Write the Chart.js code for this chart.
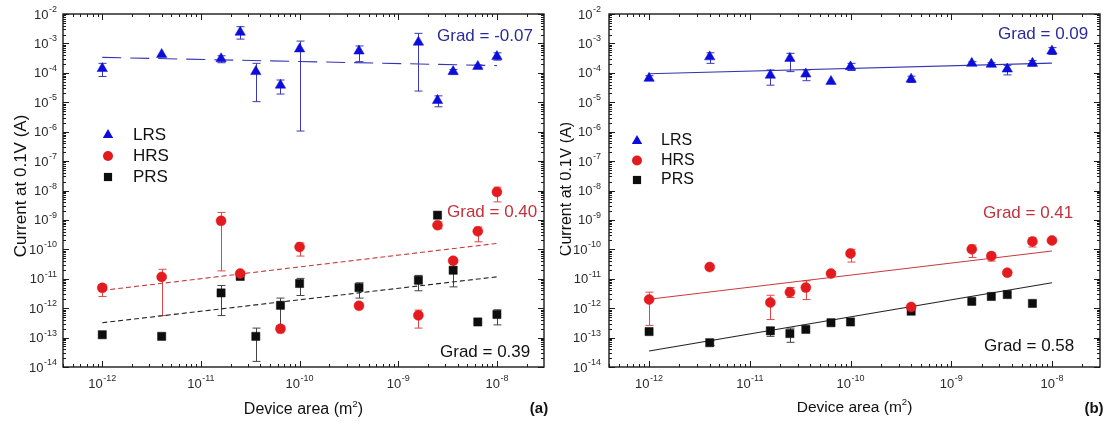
<!DOCTYPE html>
<html>
<head>
<meta charset="utf-8">
<title>Current at 0.1V versus device area</title>
<script src="https://cdn.jsdelivr.net/npm/chart.js@4/dist/chart.umd.min.js"></script>
<style>
  html, body { margin: 0; padding: 0; background: #ffffff; }
  #wrap { position: relative; width: 1107px; height: 423px; overflow: hidden; }
  #panelA { position: absolute; left: 0; top: 0; }
  #panelB { position: absolute; left: 560px; top: 0; }
</style>
</head>
<body>
<div id="wrap">
  <canvas id="panelA" width="560" height="423"></canvas>
  <canvas id="panelB" width="547" height="423"></canvas>
</div>
<script>
// Device areas (m^2): square devices 1, 2, 4, 5, 6, 8, 10, 20, 40, 50, 60, 80, 100 um
const areas = [1e-12, 4e-12, 1.6e-11, 2.5e-11, 3.6e-11, 6.4e-11, 1e-10, 4e-10, 1.6e-9, 2.5e-9, 3.6e-9, 6.4e-9, 1e-8];

// Axis decades (exponents) that carry labels
const xDecades = [-12, -11, -10, -9, -8];
const yDecades = [-14, -13, -12, -11, -10, -9, -8, -7, -6, -5, -4, -3, -2];

// ---- Panel (a): current at 0.1 V, with spread (lo / hi) ----
const lrsA   = [1.4e-4, 4.2e-4, 3.0e-4, 2.4e-3, 1.1e-4, 3.8e-5, 6.5e-4, 5.5e-4, 1.1e-3, 1.15e-5, 1.1e-4, 1.65e-4, 3.6e-4];
const lrsALo = [7.5e-5, null, 2.2e-4, 1.4e-3, 1.05e-5, 1.9e-5, 1.05e-6, 2.4e-4, 2.4e-5, 7e-6, 9e-5, 1.5e-4, 2.7e-4];
const lrsAHi = [2.1e-4, null, 3.8e-4, 3.7e-3, 2.1e-4, 5.7e-5, 1.2e-3, 8.2e-4, 2.2e-3, 1.65e-5, 1.3e-4, 1.85e-4, 4.8e-4];

const hrsA   = [4.9e-12, 1.15e-11, 9.3e-10, 1.5e-11, null, 2e-13, 1.2e-10, 1.2e-12, 5.7e-13, 6.6e-10, 4.1e-11, 4.1e-10, 8.9e-9];
const hrsALo = [2.5e-12, 5.6e-13, 1.85e-11, 1.3e-11, null, 1.45e-13, 5.9e-11, null, 2.1e-13, 5e-10, 3.5e-11, 1.8e-10, 4.1e-9];
const hrsAHi = [6.4e-12, 2.1e-11, 1.8e-9, 1.75e-11, null, 2.6e-13, 1.65e-10, null, 8.6e-13, 8.5e-10, 4.8e-11, 5.7e-10, 1.3e-8];

const prsA   = [1.25e-13, 1.1e-13, 3.3e-12, 1.2e-11, 1.1e-13, 1.25e-12, 6.9e-12, 5e-12, 8.9e-12, 1.45e-9, 1.95e-11, 3.4e-13, 6.1e-13];
const prsALo = [null, null, 5.6e-13, null, 1.55e-14, 2.4e-13, 2.7e-12, 2.2e-12, 3.9e-12, null, 5.3e-12, null, 2.7e-13];
const prsAHi = [null, null, 5.9e-12, null, 2.1e-13, 2.2e-12, 1.03e-11, 7.3e-12, 1.3e-11, null, 3.7e-11, null, 8.8e-13];

// Power-law fits for panel (a): value at 1e-12 m^2 and gradient
const lrsFitA = { start: 3.35e-4, grad: -0.07 };
const hrsFitA = { start: 4.0e-12, grad: 0.40 };
const prsFitA = { start: 3.2e-13, grad: 0.39 };

// ---- Panel (b) ----
const lrsB   = [6.5e-5, 3.5e-4, 8.3e-5, 3.1e-4, 9.1e-5, 5.1e-5, 1.6e-4, 6.1e-5, 2.1e-4, 1.95e-4, 1.35e-4, 2.1e-4, 5.5e-4];
const lrsBLo = [5.6e-5, 2.1e-4, 3.8e-5, 1.1e-4, 5.4e-5, null, 1.2e-4, 4.7e-5, 1.8e-4, 1.7e-4, 8.5e-5, 1.7e-4, 4.2e-4];
const lrsBHi = [8e-5, 4.8e-4, 1.25e-4, 4.6e-4, 1.25e-4, null, 2.1e-4, 7.7e-5, 2.4e-4, 2.2e-4, 1.8e-4, 2.6e-4, 7.2e-4];

const hrsB   = [1.96e-12, 2.5e-11, 1.55e-12, 3.5e-12, 5e-12, 1.5e-11, 7.2e-11, 1.1e-12, 1e-10, 5.9e-11, 1.6e-11, 1.85e-10, 2e-10];
const hrsBLo = [2.6e-13, null, 4.1e-13, 2.3e-12, 1.96e-12, 1.3e-11, 3.7e-11, null, 5.3e-11, 4e-11, 1.35e-11, 1.2e-10, 1.8e-10];
const hrsBHi = [3.5e-12, null, 2.75e-12, 5e-12, 8.5e-12, 1.75e-11, 1e-10, null, 1.4e-10, 7.6e-11, 1.9e-11, 2.5e-10, 2.3e-10];

const prsB   = [1.6e-13, 6.7e-14, 1.7e-13, 1.37e-13, 1.9e-13, 3.2e-13, 3.4e-13, 7.9e-13, 1.7e-12, 2.5e-12, 2.9e-12, 1.45e-12, null];
const prsBLo = [null, 5.4e-14, 1.1e-13, 6.9e-14, null, null, null, null, null, null, null, null, null];
const prsBHi = [null, 8e-14, 2.2e-13, 2.1e-13, null, null, null, null, null, null, null, null, null];

const lrsFitB = { start: 9.3e-5, grad: 0.09 };
const hrsFitB = { start: 2.0e-12, grad: 0.41 };
const prsFitB = { start: 3.5e-14, grad: 0.58 };

const fitRange = [1e-12, 1e-8];

// ---------------------------------------------------------------------------
const FONT = '"Liberation Sans", Arial, Helvetica, sans-serif';
const COLORS = {
  lrs: '#0c0cdc', lrsBar: '#3a3ab4', lrsLine: '#3434b4', lrsText: '#2b2b9c',
  hrs: '#e31b1f', hrsBar: '#e04848', hrsLine: '#c83a3e', hrsText: '#c2323c',
  prs: '#0d0d0d', prsBar: '#444444', prsLine: '#222222', prsText: '#111111'
};
const SIZES = { triangle: 6, circle: 5, rect: 5.8 };

function points(vals) {
  const out = [];
  vals.forEach((v, i) => { if (v !== null) out.push({ x: areas[i], y: v }); });
  return out;
}

function fitPoints(fit) {
  const decades = Math.log10(fitRange[1] / fitRange[0]);
  return [
    { x: fitRange[0], y: fit.start },
    { x: fitRange[1], y: fit.start * Math.pow(10, fit.grad * decades) }
  ];
}

function markerSet(label, vals, style, color) {
  return {
    label, data: points(vals), pointStyle: style, pointRadius: SIZES[style],
    backgroundColor: color, borderColor: color, borderWidth: 0.5,
    showLine: false, order: 0
  };
}

function fitSet(fit, color, dash) {
  return {
    label: 'fit', data: fitPoints(fit), showLine: true, pointRadius: 0,
    borderColor: color, borderWidth: 1.1, borderDash: dash, fill: false,
    order: 1
  };
}

function drawPow(ctx, exp, x, y, align, base, sup, color) {
  ctx.fillStyle = color;
  ctx.textBaseline = 'middle';
  ctx.textAlign = 'left';
  ctx.font = base + 'px ' + FONT;
  const w1 = ctx.measureText('10').width;
  ctx.font = sup + 'px ' + FONT;
  const w2 = ctx.measureText(exp).width;
  const total = w1 + w2 + 0.5;
  const x0 = align === 'right' ? x - total : x - total / 2;
  ctx.font = base + 'px ' + FONT;
  ctx.fillText('10', x0, y);
  ctx.font = sup + 'px ' + FONT;
  ctx.fillText(exp, x0 + w1 + 0.5, y - base * 0.42);
}

function drawMarker(ctx, style, x, y, r, color) {
  ctx.fillStyle = color;
  ctx.beginPath();
  if (style === 'triangle') {
    for (let k = 0; k < 3; k++) {
      const a = -Math.PI / 2 + k * 2 * Math.PI / 3;
      const px = x + r * Math.cos(a), py = y + r * Math.sin(a);
      if (k === 0) ctx.moveTo(px, py); else ctx.lineTo(px, py);
    }
    ctx.closePath();
  } else if (style === 'circle') {
    ctx.arc(x, y, r, 0, Math.PI * 2);
  } else {
    const s = r * Math.SQRT1_2;
    ctx.rect(x - s, y - s, 2 * s, 2 * s);
  }
  ctx.fill();
}

// Error bars, frame, inward ticks, labels, legend and annotations
const panelDecor = {
  id: 'panelDecor',
  beforeDatasetsDraw(chart, args, opts) {
    const ctx = chart.ctx, xs = chart.scales.x, ys = chart.scales.y;
    ctx.save();
    ctx.lineWidth = 1;
    opts.bars.forEach(b => {
      ctx.strokeStyle = b.color;
      b.lo.forEach((lo, i) => {
        const hi = b.hi[i];
        if (lo === null || hi === null) return;
        const px = Math.round(xs.getPixelForValue(areas[i])) + 0.5;
        const pLo = ys.getPixelForValue(lo), pHi = ys.getPixelForValue(hi);
        ctx.beginPath();
        ctx.moveTo(px, pLo); ctx.lineTo(px, pHi);
        ctx.moveTo(px - 4, pLo); ctx.lineTo(px + 4, pLo);
        ctx.moveTo(px - 4, pHi); ctx.lineTo(px + 4, pHi);
        ctx.stroke();
      });
    });
    ctx.restore();
  },
  afterDraw(chart, args, opts) {
    const ctx = chart.ctx, xs = chart.scales.x, ys = chart.scales.y;
    const a = chart.chartArea;
    ctx.save();

    // frame
    ctx.strokeStyle = '#1a1a1a';
    ctx.lineWidth = 1.4;
    ctx.strokeRect(a.left, a.top, a.right - a.left, a.bottom - a.top);

    // inward ticks on all four sides
    ctx.lineWidth = 1;
    ctx.beginPath();
    for (let e = -13; e <= -8; e++) {
      for (let m = 1; m <= 9; m++) {
        const v = m * Math.pow(10, e);
        if (v < xs.min || v > xs.max) continue;
        const px = Math.round(xs.getPixelForValue(v)) + 0.5;
        const len = m === 1 ? 6 : 3;
        ctx.moveTo(px, a.bottom); ctx.lineTo(px, a.bottom - len);
        ctx.moveTo(px, a.top); ctx.lineTo(px, a.top + len);
      }
    }
    for (let e = -14; e <= -2; e++) {
      for (let m = 1; m <= 9; m++) {
        const v = m * Math.pow(10, e);
        if (v < ys.min * 0.999 || v > ys.max * 1.001) continue;
        const py = Math.round(ys.getPixelForValue(v)) + 0.5;
        const len = m === 1 ? 6 : 3;
        ctx.moveTo(a.left, py); ctx.lineTo(a.left + len, py);
        ctx.moveTo(a.right, py); ctx.lineTo(a.right - len, py);
      }
    }
    ctx.stroke();

    // tick labels
    xDecades.forEach(e => {
      drawPow(ctx, String(e), xs.getPixelForValue(Math.pow(10, e)), a.bottom + 17,
              'center', opts.tickFont, opts.supFont, '#2a2a2a');
    });
    yDecades.forEach(e => {
      drawPow(ctx, String(e), a.left - opts.yLabelGap, ys.getPixelForValue(Math.pow(10, e)) + 1,
              'right', opts.tickFont, opts.supFont, '#2a2a2a');
    });

    // axis titles
    ctx.fillStyle = '#111';
    ctx.textBaseline = 'middle';
    const tf = opts.titleFont;
    ctx.font = tf + 'px ' + FONT;
    const part1 = 'Device area (m';
    const w1 = ctx.measureText(part1).width;
    ctx.font = (tf * 0.62) + 'px ' + FONT;
    const w2 = ctx.measureText('2').width;
    ctx.font = tf + 'px ' + FONT;
    const w3 = ctx.measureText(')').width;
    const cx = (a.left + a.right) / 2;
    let x0 = cx - (w1 + w2 + w3) / 2;
    ctx.textAlign = 'left';
    ctx.fillText(part1, x0, opts.xTitleY);
    ctx.font = (tf * 0.62) + 'px ' + FONT;
    ctx.fillText('2', x0 + w1, opts.xTitleY - tf * 0.38);
    ctx.font = tf + 'px ' + FONT;
    ctx.fillText(')', x0 + w1 + w2, opts.xTitleY);

    ctx.save();
    ctx.translate(opts.yTitleX, opts.yTitleY);
    ctx.rotate(-Math.PI / 2);
    ctx.textAlign = 'center';
    ctx.font = opts.yTitleFont + 'px ' + FONT;
    ctx.fillText('Current at 0.1V (A)', 0, 0);
    ctx.restore();

    // panel letter
    ctx.font = 'bold 15px ' + FONT;
    ctx.textAlign = 'center';
    ctx.fillStyle = '#111';
    ctx.fillText(opts.letter, opts.letterX, opts.letterY);

    // gradient annotations
    ctx.textAlign = 'left';
    ctx.font = '17px ' + FONT;
    opts.notes.forEach(n => {
      ctx.fillStyle = n.color;
      ctx.fillText(n.text, n.x, n.y);
    });

    // legend
    const lg = opts.legend;
    ctx.font = lg.font + 'px ' + FONT;
    lg.items.forEach((it, k) => {
      const y = lg.y + k * lg.step;
      drawMarker(ctx, it.style, lg.x, y, SIZES[it.style], it.color);
      ctx.fillStyle = '#111';
      ctx.fillText(it.label, lg.textX, y);
    });

    ctx.restore();
  }
};

function makePanel(id, cfg) {
  const canvas = document.getElementById(id);
  const W = canvas.width, H = canvas.height;
  const datasets = [
    markerSet('LRS', cfg.lrs, 'triangle', COLORS.lrs),
    markerSet('HRS', cfg.hrs, 'circle', COLORS.hrs),
    markerSet('PRS', cfg.prs, 'rect', COLORS.prs),
    fitSet(cfg.fits[0], COLORS.lrsLine, cfg.dashes[0]),
    fitSet(cfg.fits[1], COLORS.hrsLine, cfg.dashes[1]),
    fitSet(cfg.fits[2], COLORS.prsLine, cfg.dashes[2])
  ];
  return new Chart(canvas, {
    type: 'scatter',
    data: { datasets },
    options: {
      responsive: false,
      animation: false,
      devicePixelRatio: 1,
      layout: { padding: { top: cfg.area.top, right: W - cfg.area.right, left: 0, bottom: 0 } },
      plugins: {
        legend: { display: false },
        tooltip: { enabled: false },
        panelDecor: cfg.decor
      },
      scales: {
        x: {
          type: 'logarithmic', position: 'bottom', min: 4e-13, max: 3e-8,
          grid: { display: false }, border: { display: false }, ticks: { display: false },
          afterFit(s) { s.height = H - cfg.area.bottom; }
        },
        y: {
          type: 'logarithmic', position: 'left', min: 1e-14, max: 1e-2,
          grid: { display: false }, border: { display: false }, ticks: { display: false },
          afterFit(s) { s.width = cfg.area.left; }
        }
      }
    },
    plugins: [panelDecor]
  });
}

const legendItems = [
  { label: 'LRS', style: 'triangle', color: COLORS.lrs },
  { label: 'HRS', style: 'circle', color: COLORS.hrs },
  { label: 'PRS', style: 'rect', color: COLORS.prs }
];

makePanel('panelA', {
  area: { left: 63, right: 544, top: 14, bottom: 367 },
  lrs: lrsA, hrs: hrsA, prs: prsA,
  fits: [lrsFitA, hrsFitA, prsFitA],
  dashes: [[19, 9], [5, 3], [5, 3]],
  decor: {
    bars: [
      { lo: prsALo, hi: prsAHi, color: COLORS.prsBar },
      { lo: hrsALo, hi: hrsAHi, color: COLORS.hrsBar },
      { lo: lrsALo, hi: lrsAHi, color: COLORS.lrsBar }
    ],
    tickFont: 13, supFont: 9, yLabelGap: 6,
    titleFont: 16, yTitleFont: 17, xTitleY: 410, yTitleX: 21, yTitleY: 186,
    letter: '(a)', letterX: 539, letterY: 409,
    notes: [
      { text: 'Grad = -0.07', x: 437, y: 36, color: COLORS.lrsText },
      { text: 'Grad = 0.40', x: 447, y: 212, color: COLORS.hrsText },
      { text: 'Grad = 0.39', x: 440, y: 352, color: COLORS.prsText }
    ],
    legend: { x: 108, textX: 133, y: 135, step: 21, font: 17, items: legendItems }
  }
});

makePanel('panelB', {
  area: { left: 49, right: 540, top: 14, bottom: 367 },
  lrs: lrsB, hrs: hrsB, prs: prsB,
  fits: [lrsFitB, hrsFitB, prsFitB],
  dashes: [[], [], []],
  decor: {
    bars: [
      { lo: prsBLo, hi: prsBHi, color: COLORS.prsBar },
      { lo: hrsBLo, hi: hrsBHi, color: COLORS.hrsBar },
      { lo: lrsBLo, hi: lrsBHi, color: COLORS.lrsBar }
    ],
    tickFont: 13, supFont: 9, yLabelGap: 8,
    titleFont: 15.5, yTitleFont: 16, xTitleY: 408, yTitleX: 7, yTitleY: 189,
    letter: '(b)', letterX: 534, letterY: 409,
    notes: [
      { text: 'Grad = 0.09', x: 438, y: 34, color: COLORS.lrsText },
      { text: 'Grad = 0.41', x: 423, y: 213, color: COLORS.hrsText },
      { text: 'Grad = 0.58', x: 424, y: 346, color: COLORS.prsText }
    ],
    legend: { x: 77, textX: 101, y: 141, step: 19.5, font: 16, items: legendItems }
  }
});
</script>
</body>
</html>
